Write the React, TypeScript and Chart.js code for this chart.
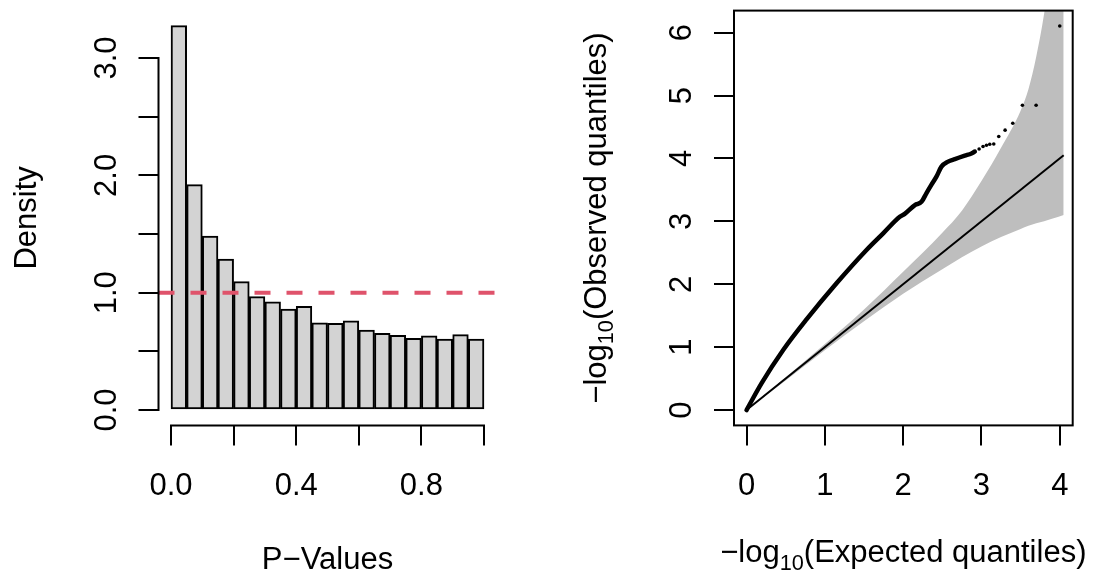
import React, { useEffect, useRef } from "react";
import { Chart, registerables } from "chart.js";

Chart.register(...registerables);

const FONT = '"Liberation Sans", Arial, Helvetica, sans-serif';
const FS = 31;

// ---------- Histogram of p-values ----------
const BIN_WIDTH = 0.05;
const BIN_STARTS = [0, 0.05, 0.1, 0.15, 0.2, 0.25, 0.3, 0.35, 0.4, 0.45, 0.5, 0.55, 0.6, 0.65, 0.7, 0.75, 0.8, 0.85, 0.9, 0.95];
const DENSITY = [3.276, 1.921, 1.483, 1.287, 1.094, 0.966, 0.923, 0.861, 0.884, 0.744, 0.739, 0.761, 0.682, 0.654, 0.637, 0.611, 0.633, 0.605, 0.642, 0.605];
const UNIFORM_DENSITY = 1;
const HIST_X_TICKS = [0, 0.2, 0.4, 0.6, 0.8, 1.0];
const HIST_X_LABELS = ["0.0", "", "0.4", "", "0.8", ""];
const HIST_Y_TICKS = [0, 0.5, 1, 1.5, 2, 2.5, 3];
const HIST_Y_LABELS = ["0.0", "", "1.0", "", "2.0", "", "3.0"];
const HIST_X_TITLE = "P\u2212Values";
const HIST_Y_TITLE = "Density";

// ---------- QQ plot ----------
const OBS_X = [0, 0.191, 0.468, 0.766, 1.149, 1.532, 1.745, 1.957, 2.02, 2.15, 2.234, 2.298, 2.36, 2.425, 2.489, 2.574, 2.66, 2.787, 2.872, 2.915];
const OBS_Y = [0, 0.424, 0.954, 1.44, 2.015, 2.545, 2.81, 3.074, 3.12, 3.26, 3.31, 3.45, 3.58, 3.71, 3.87, 3.95, 3.99, 4.045, 4.08, 4.11];
const TAIL_X = [2.97, 3.02, 3.064, 3.106, 3.157, 3.221, 3.302, 3.4, 3.523, 3.698, 4.0];
const TAIL_Y = [4.15, 4.19, 4.21, 4.225, 4.23, 4.35, 4.45, 4.56, 4.846, 4.846, 6.107];
const BAND_X = [0, 0.5, 1.0, 1.5, 2.0, 2.5, 2.75, 3.0, 3.25, 3.5, 3.6, 3.7, 3.8, 3.9, 4.05];
const BAND_UPPER = [0, 0.52, 1.05, 1.6, 2.2, 2.82, 3.17, 3.64, 4.17, 4.76, 5.1, 5.62, 6.3, 7.2, 8.8];
const BAND_LOWER = [0, 0.47, 0.95, 1.41, 1.85, 2.24, 2.43, 2.6, 2.75, 2.88, 2.93, 2.97, 3.0, 3.04, 3.1];
const REF_LINE = [0, 4.05];
const QQ_X_TICKS = [0, 1, 2, 3, 4];
const QQ_Y_TICKS = [0, 1, 2, 3, 4, 5, 6];

type Part = { text: string; sub?: boolean };

function drawRich(ctx: CanvasRenderingContext2D, parts: Part[], size: number, x: number, y: number, rotated: boolean) {
  ctx.save();
  ctx.translate(x, y);
  if (rotated) ctx.rotate(-Math.PI / 2);
  const subSize = size * 0.7;
  let total = 0;
  const widths = parts.map((p) => {
    ctx.font = `${p.sub ? subSize : size}px ${FONT}`;
    const w = ctx.measureText(p.text).width;
    total += w;
    return w;
  });
  let cur = -total / 2;
  ctx.textBaseline = "alphabetic";
  ctx.textAlign = "left";
  ctx.fillStyle = "#000";
  parts.forEach((p, i) => {
    ctx.font = `${p.sub ? subSize : size}px ${FONT}`;
    ctx.fillText(p.text, cur, p.sub ? size * 0.24 : 0);
    cur += widths[i];
  });
  ctx.restore();
}

const tickGrid = { drawOnChartArea: false, drawTicks: true, tickLength: 20, color: "#000", lineWidth: 2, offset: false };

function HistPanel() {
  const ref = useRef<HTMLCanvasElement>(null);
  useEffect(() => {
    const canvas = ref.current!;
    const bars = BIN_STARTS.map((s, i) => ({ x: s + BIN_WIDTH / 2, y: DENSITY[i] }));
    const span = HIST_X_TICKS[HIST_X_TICKS.length - 1] - HIST_X_TICKS[0];
    const xMin = HIST_X_TICKS[0] - 0.04 * span;
    const xMax = HIST_X_TICKS[HIST_X_TICKS.length - 1] + 0.04 * span;
    const dMax = Math.max(...DENSITY);
    const plugin = {
      id: "rstyle",
      afterDraw(chart: any) {
        const { ctx, chartArea: a, scales } = chart;
        const x = scales.x, y = scales.y;
        ctx.save();
        ctx.strokeStyle = "#000";
        ctx.lineWidth = 2;
        ctx.beginPath();
        ctx.moveTo(x.getPixelForValue(HIST_X_TICKS[0]) - 1, a.bottom);
        ctx.lineTo(x.getPixelForValue(HIST_X_TICKS[HIST_X_TICKS.length - 1]) + 1, a.bottom);
        ctx.moveTo(a.left, y.getPixelForValue(HIST_Y_TICKS[0]) + 1);
        ctx.lineTo(a.left, y.getPixelForValue(HIST_Y_TICKS[HIST_Y_TICKS.length - 1]) - 1);
        ctx.stroke();
        ctx.restore();
        HIST_X_TICKS.forEach((v, i) => {
          if (HIST_X_LABELS[i]) drawRich(ctx, [{ text: HIST_X_LABELS[i] }], FS, x.getPixelForValue(v), a.bottom + 69.6, false);
        });
        HIST_Y_TICKS.forEach((v, i) => {
          if (HIST_Y_LABELS[i]) drawRich(ctx, [{ text: HIST_Y_LABELS[i] }], FS, a.left - 43, y.getPixelForValue(v), true);
        });
        drawRich(ctx, [{ text: HIST_X_TITLE }], FS, (a.left + a.right) / 2, a.bottom + 143.6, false);
        drawRich(ctx, [{ text: HIST_Y_TITLE }], FS, a.left - 122.5, (a.top + a.bottom) / 2, true);
      },
    };
    const chart = new Chart(canvas, {
      type: "bar",
      data: {
        datasets: [
          {
            type: "line",
            data: [{ x: xMin, y: UNIFORM_DENSITY }, { x: xMax, y: UNIFORM_DENSITY }],
            borderColor: "#DF536B",
            borderWidth: 4,
            borderDash: [16, 16],
            pointRadius: 0,
            order: 0,
          } as any,
          {
            type: "bar",
            data: bars,
            backgroundColor: "#D3D3D3",
            borderColor: "#000",
            borderWidth: 2,
            borderSkipped: false,
            barPercentage: 1,
            categoryPercentage: 1,
            grouped: false,
            order: 1,
          } as any,
        ],
      },
      options: {
        animation: false,
        responsive: false,
        events: [],
        layout: { padding: { left: 0, top: 10.3, right: 51.5, bottom: 0 } },
        plugins: { legend: { display: false }, tooltip: { enabled: false } },
        scales: {
          x: {
            type: "linear",
            min: xMin,
            max: xMax,
            offset: false,
            afterBuildTicks: (s: any) => { s.ticks = HIST_X_TICKS.map((v) => ({ value: v })); },
            afterFit: (s: any) => { s.height = 145.6; },
            grid: tickGrid,
            border: { display: false },
            ticks: { display: false },
          },
          y: {
            type: "linear",
            min: -0.04 * dMax,
            max: 1.04 * dMax,
            afterBuildTicks: (s: any) => { s.ticks = HIST_Y_TICKS.map((v) => ({ value: v })); },
            afterFit: (s: any) => { s.width = 158.5; },
            grid: tickGrid,
            border: { display: false },
            ticks: { display: false },
          },
        },
      } as any,
      plugins: [plugin],
    });
    return () => chart.destroy();
  }, []);
  return <canvas ref={ref} width={548} height={571} style={{ position: "absolute", left: 0, top: 0, display: "block" }} />;
}

function QQPanel() {
  const ref = useRef<HTMLCanvasElement>(null);
  useEffect(() => {
    const canvas = ref.current!;
    const yTop = Math.max(...TAIL_Y);
    const xTop = TAIL_X[TAIL_X.length - 1] + 0.005;
    const plugin = {
      id: "rstyleqq",
      afterDraw(chart: any) {
        const { ctx, chartArea: a, scales } = chart;
        const x = scales.x, y = scales.y;
        ctx.save();
        ctx.strokeStyle = "#000";
        ctx.lineWidth = 2;
        ctx.strokeRect(a.left, a.top, a.right - a.left, a.bottom - a.top);
        ctx.restore();
        QQ_X_TICKS.forEach((v) => drawRich(ctx, [{ text: String(v) }], FS, x.getPixelForValue(v), a.bottom + 69.6, false));
        QQ_Y_TICKS.forEach((v) => drawRich(ctx, [{ text: String(v) }], FS, a.left - 43, y.getPixelForValue(v), true));
        drawRich(ctx, [{ text: "\u2212log" }, { text: "10", sub: true }, { text: "(Expected quantiles)" }], FS, (a.left + a.right) / 2, a.bottom + 137, false);
        drawRich(ctx, [{ text: "\u2212log" }, { text: "10", sub: true }, { text: "(Observed quantiles)" }], FS, a.left - 128, (a.top + a.bottom) / 2, true);
      },
    };
    const chart = new Chart(canvas, {
      type: "scatter",
      data: {
        datasets: [
          {
            data: TAIL_X.map((v, i) => ({ x: v, y: TAIL_Y[i] })),
            backgroundColor: "#000",
            borderColor: "#000",
            borderWidth: 0,
            pointRadius: 1.8,
            order: 0,
          },
          {
            type: "line",
            data: OBS_X.map((v, i) => ({ x: v, y: OBS_Y[i] })),
            borderColor: "#000",
            borderWidth: 4.5,
            borderCapStyle: "round",
            borderJoinStyle: "round",
            cubicInterpolationMode: "monotone",
            pointRadius: 0,
            order: 1,
          } as any,
          {
            type: "line",
            data: REF_LINE.map((v) => ({ x: v, y: v })),
            borderColor: "#000",
            borderWidth: 2,
            pointRadius: 0,
            order: 2,
          } as any,
          {
            type: "line",
            data: BAND_X.map((v, i) => ({ x: v, y: BAND_UPPER[i] })),
            borderColor: "rgba(0,0,0,0)",
            borderWidth: 1,
            backgroundColor: "#BEBEBE",
            fill: "+1",
            pointRadius: 0,
            cubicInterpolationMode: "monotone",
            order: 3,
          } as any,
          {
            type: "line",
            data: BAND_X.map((v, i) => ({ x: v, y: BAND_LOWER[i] })),
            borderColor: "rgba(0,0,0,0)",
            borderWidth: 1,
            pointRadius: 0,
            fill: false,
            cubicInterpolationMode: "monotone",
            order: 3,
          } as any,
        ],
      },
      options: {
        animation: false,
        responsive: false,
        events: [],
        layout: { padding: { left: 0, top: 10.6, right: 22.3, bottom: 0 } },
        plugins: { legend: { display: false }, tooltip: { enabled: false } },
        scales: {
          x: {
            type: "linear",
            min: -0.04 * xTop,
            max: 1.04 * xTop,
            afterBuildTicks: (s: any) => { s.ticks = QQ_X_TICKS.map((v) => ({ value: v })); },
            afterFit: (s: any) => { s.height = 145.6; },
            grid: tickGrid,
            border: { display: false },
            ticks: { display: false },
          },
          y: {
            type: "linear",
            min: -0.04 * yTop,
            max: 1.04 * yTop,
            afterBuildTicks: (s: any) => { s.ticks = QQ_Y_TICKS.map((v) => ({ value: v })); },
            afterFit: (s: any) => { s.width = 186; },
            grid: tickGrid,
            border: { display: false },
            ticks: { display: false },
          },
        },
      } as any,
      plugins: [plugin],
    });
    return () => chart.destroy();
  }, []);
  return <canvas ref={ref} width={547} height={571} style={{ position: "absolute", left: 548, top: 0, display: "block" }} />;
}

export default function App() {
  return (
    <div style={{ position: "absolute", left: 0, top: 0, width: 1095, height: 571, background: "#fff" }}>
      <HistPanel />
      <QQPanel />
    </div>
  );
}
